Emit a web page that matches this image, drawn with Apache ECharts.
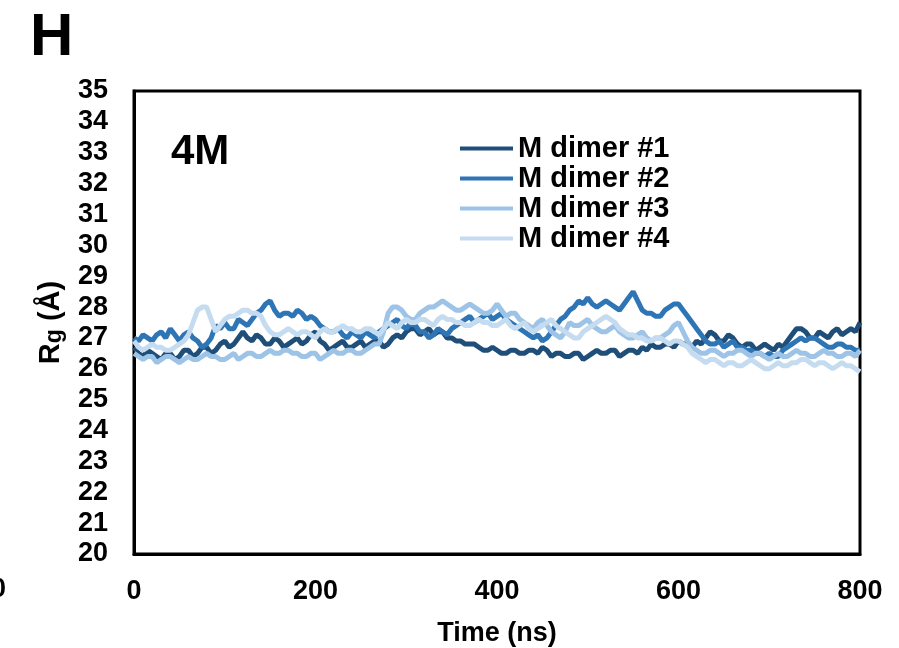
<!DOCTYPE html>
<html>
<head>
<meta charset="utf-8">
<script src="https://cdn.jsdelivr.net/npm/echarts@6/dist/echarts.min.js"></script>
<style>
html,body{margin:0;padding:0;background:#fff;}
#chart{width:899px;height:648px;}
</style>
</head>
<body>
<div id="chart"></div>
<script>
// Time axis (ns), one point every 5 ns
var timeStepNs = 5;

var seriesNames = ['M dimer #1', 'M dimer #2', 'M dimer #3', 'M dimer #4'];
var seriesColors = ['#1f4e79', '#2e75b6', '#9dc3e6', '#c5dcf0'];

var dimer1 = [
  26.7,26.5,26.4,26.6,26.5,26.4,26.3,26.5,26.5,26.3,
  26.4,26.6,26.6,26.4,26.5,26.7,26.7,26.5,26.6,26.8,
  26.9,26.7,26.8,27.0,27.2,27.0,26.9,27.1,27.0,26.8,
  26.8,27.0,26.9,26.7,26.8,26.9,27.0,26.8,26.9,27.1,
  27.2,26.9,26.8,26.6,26.7,26.8,26.9,26.7,26.7,26.8,
  26.9,26.7,26.8,26.9,26.9,26.7,26.8,27.0,27.1,27.0,
  27.2,27.3,27.3,27.1,27.2,27.3,27.1,27.2,27.2,27.0,
  27.0,26.9,26.9,26.8,26.8,26.8,26.7,26.6,26.6,26.7,
  26.6,26.5,26.5,26.6,26.6,26.5,26.5,26.6,26.6,26.5,
  26.7,26.6,26.4,26.5,26.5,26.4,26.4,26.5,26.5,26.3,
  26.4,26.5,26.6,26.5,26.5,26.6,26.6,26.4,26.5,26.6,
  26.6,26.5,26.7,26.6,26.8,26.7,26.7,26.8,26.8,26.7,
  26.9,26.8,26.8,26.7,26.9,26.8,27.0,27.2,27.1,26.9,
  26.9,27.1,27.0,26.8,26.7,26.8,26.8,26.6,26.7,26.8,
  26.7,26.6,26.8,26.7,26.9,27.1,27.3,27.3,27.2,27.0,
  27.0,27.2,27.1,27.0,27.2,27.3,27.1,27.2,27.3,27.2,
  27.5];

var dimer2 = [
  27.0,26.9,27.1,27.0,26.9,27.1,27.2,27.0,27.3,27.1,
  26.9,27.1,27.2,27.0,26.9,26.7,26.8,27.0,27.4,27.3,
  27.5,27.3,27.3,27.6,27.5,27.4,27.6,27.8,27.9,28.1,
  28.2,27.9,27.7,27.8,27.8,27.7,27.9,27.8,27.6,27.7,
  27.6,27.4,27.3,27.2,27.2,27.3,27.1,27.0,27.2,27.1,
  27.0,27.2,27.1,27.0,27.2,27.3,27.4,27.5,27.6,27.4,
  27.3,27.5,27.4,27.2,27.2,27.0,27.1,27.3,27.2,27.1,
  27.3,27.4,27.5,27.6,27.7,27.5,27.6,27.7,27.8,27.6,
  27.7,27.8,27.6,27.5,27.4,27.3,27.2,27.1,27.0,27.1,
  26.9,27.0,27.2,27.4,27.6,27.7,27.9,28.0,28.2,28.1,
  28.3,28.1,28.0,28.1,28.2,28.1,28.0,27.9,28.1,28.3,
  28.5,28.2,27.9,27.8,27.8,27.7,27.7,27.9,28.0,28.1,
  28.1,27.9,27.7,27.5,27.3,27.1,26.9,26.8,26.8,26.9,
  26.7,26.8,26.9,26.7,26.7,26.6,26.6,26.5,26.5,26.4,
  26.5,26.4,26.4,26.6,26.7,26.8,26.9,27.0,26.9,27.0,
  27.0,26.9,26.8,26.7,26.7,26.8,26.8,26.7,26.7,26.6,
  26.6];

var dimer3 = [
  26.5,26.4,26.3,26.4,26.4,26.2,26.3,26.4,26.4,26.3,
  26.2,26.3,26.4,26.3,26.3,26.4,26.5,26.4,26.4,26.3,
  26.3,26.4,26.5,26.3,26.4,26.5,26.5,26.4,26.4,26.5,
  26.6,26.5,26.5,26.6,26.6,26.5,26.5,26.4,26.4,26.5,
  26.5,26.3,26.4,26.5,26.6,26.5,26.5,26.6,26.6,26.5,
  26.5,26.6,26.7,26.8,26.8,27.2,27.8,28.0,28.0,27.9,
  27.7,27.6,27.6,27.8,27.9,28.0,28.0,28.1,28.2,28.1,
  28.0,27.9,27.9,28.0,28.1,28.0,27.9,27.8,27.8,27.9,
  28.1,27.9,27.7,27.8,27.8,27.6,27.5,27.4,27.3,27.5,
  27.6,27.4,27.2,27.1,27.0,27.2,27.5,27.4,27.4,27.5,
  27.6,27.4,27.3,27.2,27.2,27.3,27.4,27.2,27.1,27.0,
  27.0,27.1,27.2,27.0,26.9,27.0,27.0,27.1,27.2,27.4,
  27.5,27.2,26.9,26.7,26.6,26.5,26.5,26.6,26.6,26.5,
  26.4,26.5,26.5,26.6,26.6,26.5,26.4,26.5,26.5,26.4,
  26.3,26.4,26.5,26.4,26.4,26.5,26.6,26.5,26.5,26.4,
  26.4,26.5,26.6,26.5,26.5,26.4,26.4,26.5,26.5,26.4,
  26.6];

var dimer4 = [
  26.9,26.7,26.6,26.7,26.8,26.7,26.7,26.6,26.6,26.7,
  26.8,26.9,27.1,27.5,27.9,28.0,28.0,27.6,27.2,27.4,
  27.6,27.7,27.7,27.8,27.9,27.9,27.8,27.8,27.7,27.4,
  27.2,27.1,27.1,27.2,27.3,27.2,27.1,27.2,27.2,27.1,
  27.0,27.2,27.3,27.2,27.2,27.3,27.4,27.3,27.3,27.2,
  27.2,27.3,27.3,27.2,27.1,27.3,27.5,27.4,27.3,27.5,
  27.6,27.5,27.5,27.6,27.6,27.5,27.4,27.6,27.7,27.6,
  27.6,27.5,27.5,27.4,27.4,27.5,27.6,27.5,27.5,27.4,
  27.4,27.5,27.6,27.4,27.3,27.4,27.5,27.3,27.2,27.3,
  27.4,27.5,27.6,27.4,27.3,27.2,27.1,27.0,27.0,27.2,
  27.3,27.4,27.5,27.6,27.7,27.6,27.5,27.3,27.2,27.1,
  27.1,27.0,27.0,26.9,26.9,27.0,27.0,26.9,26.8,26.9,
  26.9,26.8,26.7,26.5,26.4,26.3,26.2,26.3,26.3,26.2,
  26.1,26.2,26.2,26.1,26.1,26.2,26.3,26.2,26.1,26.0,
  26.0,26.1,26.2,26.1,26.1,26.2,26.2,26.3,26.3,26.2,
  26.1,26.2,26.2,26.1,26.0,26.1,26.2,26.1,26.1,26.0,
  25.9];

var allSeries = [dimer1, dimer2, dimer3, dimer4];

var FONT = '"Liberation Sans", Arial, sans-serif';

function pairs(vals) {
  return vals.map(function (v, i) { return [i * timeStepNs, v]; });
}

var chart = echarts.init(document.getElementById('chart'), null, {renderer: 'canvas'});

chart.setOption({
  backgroundColor: '#ffffff',
  animation: false,
  textStyle: {fontFamily: FONT, fontWeight: 'bold', color: '#000'},
  grid: {
    left: 134, right: 39, top: 91, bottom: 94,
    containLabel: false,
    outerBoundsMode: 'none',
    show: true, borderColor: '#000', borderWidth: 3, backgroundColor: 'transparent'
  },
  legend: {
    orient: 'vertical',
    left: 455, top: 129,
    icon: 'rect',
    itemWidth: 53, itemHeight: 4,
    itemGap: 1,
    textStyle: {fontFamily: FONT, fontWeight: 'bold', fontSize: 29, color: '#000', lineHeight: 29},
    data: seriesNames
  },
  xAxis: {
    type: 'value',
    min: 0, max: 800, interval: 200,
    name: 'Time (ns)',
    nameLocation: 'middle',
    nameGap: 66,
    nameTextStyle: {fontFamily: FONT, fontWeight: 'bold', fontSize: 27, color: '#000'},
    axisLine: {show: true, lineStyle: {color: '#000', width: 3}},
    axisTick: {show: false},
    splitLine: {show: false},
    axisLabel: {fontFamily: FONT, fontWeight: 'bold', fontSize: 27, color: '#000', margin: 24}
  },
  yAxis: {
    type: 'value',
    min: 20, max: 35, interval: 1,
    name: 'R{sub|g} (Å)',
    nameLocation: 'middle',
    nameRotate: 90,
    nameGap: 68,
    nameTextStyle: {
      fontFamily: FONT, fontWeight: 'bold', fontSize: 29, color: '#000',
      rich: {sub: {fontFamily: FONT, fontWeight: 'bold', fontSize: 23, color: '#000', verticalAlign: 'bottom', padding: [8, 0, 0, 0]}}
    },
    axisLine: {show: true, lineStyle: {color: '#000', width: 3}},
    axisTick: {show: false},
    splitLine: {show: false},
    axisLabel: {fontFamily: FONT, fontWeight: 'bold', fontSize: 27, color: '#000', margin: 26}
  },
  graphic: [
    {type: 'text', left: 30, top: 8, style: {text: 'H', fontFamily: FONT, fontWeight: 'bold', fontSize: 60, fill: '#000'}},
    {type: 'text', left: 171, top: 131, style: {text: '4M', fontFamily: FONT, fontWeight: 'bold', fontSize: 42, fill: '#000'}},
    {type: 'text', left: -9, top: 576, style: {text: '0', fontFamily: FONT, fontWeight: 'bold', fontSize: 27, fill: '#000'}}
  ],
  series: allSeries.map(function (vals, i) {
    return {
      name: seriesNames[i],
      type: 'line',
      data: pairs(vals),
      showSymbol: false,
      symbol: 'none',
      smooth: false,
      lineStyle: {color: seriesColors[i], width: 5},
      itemStyle: {color: seriesColors[i]},
      z: 2 + i
    };
  })
});
</script>
</body>
</html>
